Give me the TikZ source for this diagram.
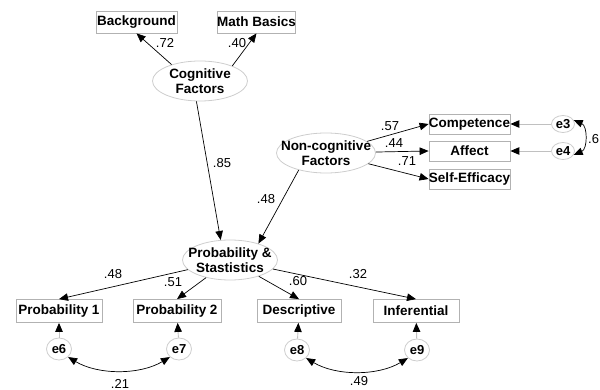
\documentclass[tikz,border=0pt]{standalone}
\usepackage{fontspec}
\setmainfont{Liberation Sans}
\usepackage{xcolor}
\definecolor{ink}{RGB}{0,0,0}
\definecolor{frame}{RGB}{178,178,178}
\definecolor{halo}{RGB}{205,205,205}
\definecolor{faint}{RGB}{192,192,192}
\usepackage{tikz}
\usetikzlibrary{arrows.meta,shapes.geometric}
\tikzset{
  %% observed variables
  obs/.style={draw=frame, line width=0.8pt, inner sep=0pt,
    minimum height=22pt, font=\fontsize{13.5}{14}\selectfont\bfseries},
  %% latent factors
  lat/.style={ellipse, draw=halo, line width=0.8pt, inner sep=-10pt,
    minimum width=95pt, minimum height=40pt, align=center,
    font=\fontsize{13.5}{14.5}\selectfont\bfseries},
  %% error terms
  err/.style={ellipse, draw=halo, line width=0.8pt, inner sep=0pt,
    minimum width=25pt, minimum height=22pt,
    font=\fontsize{13}{13}\selectfont\bfseries},
  errs/.style={err, minimum width=23pt, minimum height=17pt},
  wt/.style={inner sep=0pt, font=\fontsize{13}{13}\selectfont},
  load/.style={draw=ink, line width=0.7pt,
    -{Triangle[length=9pt,width=7.5pt]}},
  resid/.style={draw=faint, line width=0.9pt,
    -{Triangle[length=9pt,width=7.5pt,color=ink]}},
  cov/.style={draw=ink, line width=0.7pt,
    {Triangle[length=9pt,width=7.5pt]}-{Triangle[length=9pt,width=7.5pt]}},
}

\begin{document}
\begin{tikzpicture}[x=1pt,y=-1pt]
\useasboundingbox (0,0) rectangle (600,390);

%% top block
\node[obs, minimum width=81pt] (back) at (136.5,22) {Background};
\node[obs, minimum width=75pt] (math) at (256.5,22) {Math Basics};
\node[lat] (cog) at (200,81) {Cognitive\\Factors};
\draw[load] (cog.150) -- (back.south);
\draw[load] (cog.25) -- (math.south);
\node[wt] (l72) at (165,43) {.72};
\node[wt] (l40) at (237,43) {.40};

%% non-cognitive block
\node[lat] (nc) at (326,153) {Non-cognitive\\Factors};
\node[obs, minimum width=81pt, minimum height=20pt] (comp) at (469.5,124) {Competence};
\node[obs, minimum width=81pt, minimum height=20pt] (aff) at (469.5,151) {Affect};
\node[obs, minimum width=81pt, minimum height=20pt] (se) at (469.5,179) {Self-Efficacy};
\node[errs] (e3) at (563,124) {e3};
\node[errs] (e4) at (563,151) {e4};
\draw[load] (nc) -- (comp.west);
\draw[load] (nc) -- (aff.west);
\draw[load] (nc) -- (se.west);
\draw[resid] (e3) -- (comp);
\draw[resid] (e4) -- (aff);
\draw[cov] (e3.20) .. controls +(14,6) and +(14,-6) .. (e4.340);
\node[wt] (l57) at (390,126) {.57};
\node[wt] (l44) at (394,143) {.44};
\node[wt] (l71) at (407,161) {.71};
\node[wt, anchor=west] (l6) at (588,139) {.6};

%% outcome
\node[lat] (ps) at (230,260) {Probability \&\\Stastistics};
\draw[load] (cog.260) -- (ps.115);
\draw[load] (nc.212) -- (ps.30);
\node[wt] (l85) at (222,163) {.85};
\node[wt] (l48b) at (266,199) {.48};

%% indicators
\node[obs, minimum width=86pt, minimum height=23pt] (p1) at (59,311) {Probability 1};
\node[obs, minimum width=88pt, minimum height=23pt] (p2) at (177,311) {Probability 2};
\node[obs, minimum width=84pt, minimum height=23pt] (desc) at (299,311) {Descriptive};
\node[obs, minimum width=86pt, minimum height=23pt] (inf) at (416,311) {Inferential};
\draw[load] (ps) -- (p1.north);
\draw[load] (ps) -- (p2.north);
\draw[load] (ps) -- (desc.north);
\draw[load] (ps) -- (inf.north);
\node[wt] (l48) at (113,274) {.48};
\node[wt] (l51) at (173,282) {.51};
\node[wt] (l60) at (298,281) {.60};
\node[wt] (l32) at (358,274) {.32};

%% residuals
\node[err] (e6) at (59,349) {e6};
\node[err] (e7) at (179,349) {e7};
\node[err] (e8) at (297,350) {e8};
\node[err] (e9) at (417,350) {e9};
\draw[resid] (e6) -- (p1);
\draw[resid] (e7) -- (p2);
\draw[resid] (e8) -- (desc);
\draw[resid] (e9) -- (inf);
\draw[cov] (e6.south east) .. controls +(30,18) and +(-30,18) .. (e7.south west);
\draw[cov] (e8.south east) .. controls +(30,18) and +(-30,18) .. (e9.south west);
\node[wt] (l21) at (120,384) {.21};
\node[wt] (l49) at (359,381) {.49};
\end{tikzpicture}
\end{document}
